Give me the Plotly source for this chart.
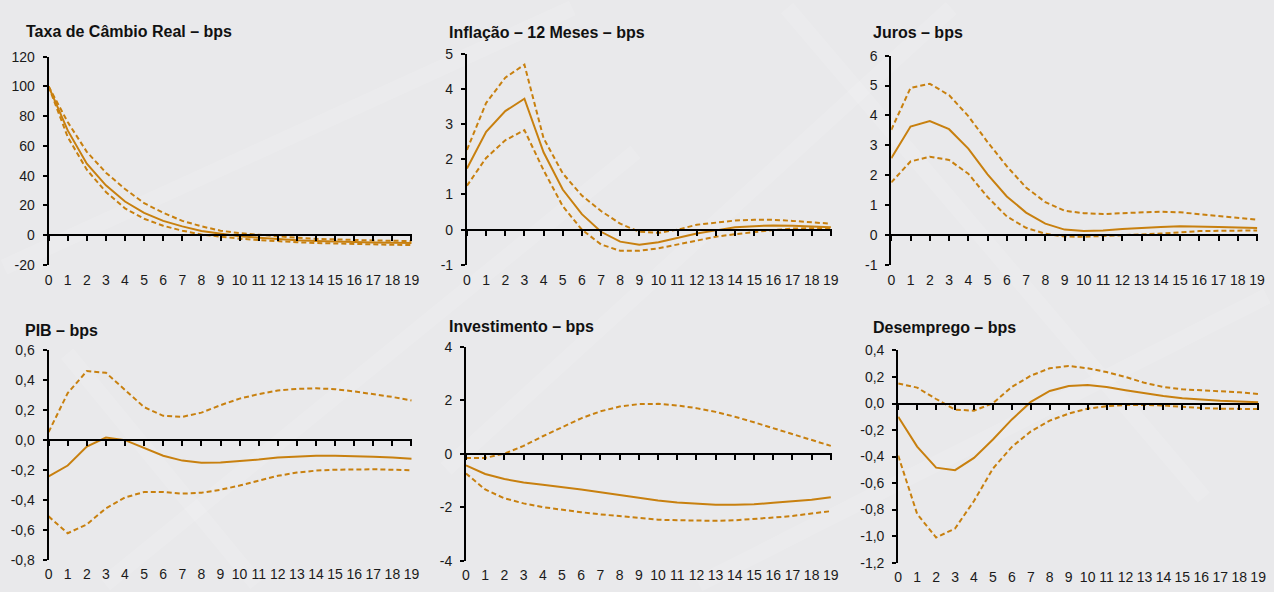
import plotly.graph_objects as go

# horizons (quarters after the shock)
horizons = list(range(20))

# Taxa de Câmbio Real
cambio_mid = [100, 70.4, 48, 33.5, 22.6, 15, 9.6, 5.9, 2.8, 0.9, -0.7, -1.7, -2.8, -3.5, -4, -4.5, -4.8, -5, -5.2, -5.3]
cambio_up = [100, 76, 56, 42, 31, 21.5, 15, 9.6, 5.9, 3, 1.3, 0.2, -0.9, -1.8, -2.5, -3, -3.3, -3.6, -3.8, -4]
cambio_lo = [100, 66, 44, 29, 18, 11, 6.3, 3, 0.4, -1.1, -2.4, -3.3, -4.2, -4.8, -5.3, -5.7, -6, -6.3, -6.5, -6.7]

# Inflação – 12 meses
infl_mid = [1.74, 2.78, 3.37, 3.72, 2.2, 1.14, 0.44, -0.06, -0.34, -0.43, -0.36, -0.23, -0.11, -0.02, 0.07, 0.1, 0.12, 0.11, 0.09, 0.07]
infl_up = [2.27, 3.6, 4.32, 4.69, 2.6, 1.6, 0.97, 0.53, 0.17, -0.06, -0.09, 0.0, 0.14, 0.21, 0.26, 0.28, 0.28, 0.25, 0.21, 0.17]
infl_lo = [1.25, 2.04, 2.54, 2.83, 1.69, 0.67, 0.0, -0.42, -0.6, -0.6, -0.53, -0.42, -0.3, -0.2, -0.13, -0.06, -0.01, 0.03, 0.05, 0.05]

# Juros
juros_mid = [2.57, 3.63, 3.81, 3.54, 2.89, 2.03, 1.29, 0.75, 0.38, 0.18, 0.13, 0.15, 0.2, 0.24, 0.27, 0.29, 0.29, 0.27, 0.25, 0.23]
juros_up = [3.52, 4.92, 5.06, 4.68, 3.98, 3.11, 2.3, 1.59, 1.1, 0.81, 0.73, 0.7, 0.73, 0.76, 0.78, 0.76, 0.7, 0.65, 0.58, 0.51]
juros_lo = [1.76, 2.46, 2.62, 2.51, 2.05, 1.27, 0.62, 0.24, 0.04, -0.05, -0.06, -0.04, -0.01, 0.02, 0.05, 0.1, 0.13, 0.14, 0.15, 0.15]

# PIB
pib_mid = [-0.243, -0.17, -0.043, 0.017, 0.0, -0.054, -0.104, -0.137, -0.152, -0.15, -0.141, -0.13, -0.117, -0.109, -0.104, -0.104, -0.106, -0.111, -0.117, -0.124]
pib_up = [0.054, 0.315, 0.462, 0.451, 0.336, 0.221, 0.163, 0.156, 0.184, 0.234, 0.278, 0.308, 0.332, 0.343, 0.347, 0.341, 0.326, 0.308, 0.289, 0.265]
pib_lo = [-0.51, -0.623, -0.564, -0.456, -0.384, -0.347, -0.347, -0.358, -0.352, -0.332, -0.304, -0.271, -0.239, -0.217, -0.204, -0.198, -0.195, -0.195, -0.198, -0.202]

# Investimento
inv_mid = [-0.44, -0.76, -0.95, -1.08, -1.16, -1.24, -1.34, -1.44, -1.55, -1.66, -1.75, -1.83, -1.87, -1.91, -1.91, -1.89, -1.84, -1.78, -1.72, -1.63]
inv_up = [-0.16, -0.16, 0.0, 0.29, 0.65, 0.99, 1.32, 1.58, 1.76, 1.85, 1.86, 1.8, 1.7, 1.56, 1.38, 1.17, 0.95, 0.75, 0.53, 0.29]
inv_lo = [-0.74, -1.34, -1.67, -1.86, -2.0, -2.1, -2.19, -2.27, -2.34, -2.4, -2.47, -2.49, -2.51, -2.51, -2.49, -2.45, -2.39, -2.33, -2.25, -2.15]

# Desemprego
des_mid = [-0.1, -0.325, -0.484, -0.503, -0.41, -0.271, -0.12, 0.012, 0.095, 0.132, 0.139, 0.125, 0.1, 0.076, 0.056, 0.039, 0.027, 0.02, 0.015, 0.01]
des_up = [0.151, 0.12, 0.034, -0.046, -0.054, 0.002, 0.125, 0.21, 0.266, 0.283, 0.266, 0.237, 0.2, 0.156, 0.125, 0.107, 0.1, 0.093, 0.085, 0.071]
des_lo = [-0.393, -0.833, -1.011, -0.943, -0.735, -0.491, -0.327, -0.21, -0.129, -0.076, -0.039, -0.02, -0.012, -0.01, -0.015, -0.027, -0.034, -0.039, -0.042, -0.042]

titles = ["Taxa de Câmbio Real – bps", "Inflação – 12 Meses – bps", "Juros – bps",
          "PIB – bps", "Investimento – bps", "Desemprego – bps"]

# y tick values per panel
yticks_cambio = [-20, 0, 20, 40, 60, 80, 100, 120]
yticks_infl = [-1, 0, 1, 2, 3, 4, 5]
yticks_juros = [-1, 0, 1, 2, 3, 4, 5, 6]
yticks_pib = [-0.8, -0.6, -0.4, -0.2, 0.0, 0.2, 0.4, 0.6]
yticks_inv = [-4, -2, 0, 2, 4]
yticks_des = [-1.2, -1.0, -0.8, -0.6, -0.4, -0.2, 0.0, 0.2, 0.4]

W, H = 1274, 592
ORANGE = "#c8800f"
FONT = "Liberation Sans, Arial, sans-serif"

# series, ticks, decimals, plot area x px, plot area y px, title left/center px
panels = [
    (cambio_mid, cambio_up, cambio_lo, yticks_cambio, 0, (45, 412), (50, 264), (22, 24)),
    (infl_mid, infl_up, infl_lo, yticks_infl, 0, (467, 835), (47, 264), (449, 25)),
    (juros_mid, juros_up, juros_lo, yticks_juros, 0, (895, 1265), (49, 264), (877, 25)),
    (pib_mid, pib_up, pib_lo, yticks_pib, 1, (45, 412), (352, 567), (21, 331)),
    (inv_mid, inv_up, inv_lo, yticks_inv, 0, (466, 835), (348, 568), (449, 327)),
    (des_mid, des_up, des_lo, yticks_des, 1, (902, 1266), (352, 570), (877, 328)),
]


def fmt(v, dec):
    return f"{v:.{dec}f}".replace(".", ",")


fig = go.Figure()
layout = {}
annotations = []

for i, (mid, up, lo, yt, dec, (px0, px1), (py0, py1), (tx, ty)) in enumerate(panels):
    n = i + 1
    xa = "x" if n == 1 else f"x{n}"
    ya = "y" if n == 1 else f"y{n}"
    xdom = [px0 / W, px1 / W]
    ydom = [1 - py1 / H, 1 - py0 / H]

    for series, dash in [(up, "5px,3px"), (lo, "5px,3px"), (mid, "solid")]:
        fig.add_trace(go.Scatter(
            x=horizons, y=series, mode="lines", xaxis=xa, yaxis=ya,
            line=dict(color=ORANGE, width=2, dash=dash),
            showlegend=False, hoverinfo="skip",
        ))

    ymin, ymax = yt[0], yt[-1]
    # bottom axis: labels only
    layout[f"xaxis{'' if n == 1 else n}"] = dict(
        domain=xdom, anchor=ya, range=[0, 19.05],
        tickvals=horizons, ticktext=[str(h) for h in horizons],
        showline=False, showgrid=False, zeroline=False,
        ticks="outside", ticklen=2, tickcolor="rgba(0,0,0,0)",
        tickfont=dict(family=FONT, size=14, color="#1a1a1a"),
    )
    layout[f"yaxis{'' if n == 1 else n}"] = dict(
        domain=ydom, anchor=xa, range=[ymin, ymax],
        tickvals=yt, ticktext=[fmt(v, dec) for v in yt],
        showline=True, linecolor="black", linewidth=2,
        ticks="outside", ticklen=4, tickwidth=2, tickcolor="black",
        ticklabelstandoff=5,
        showgrid=False, zeroline=False,
        tickfont=dict(family=FONT, size=14, color="#1a1a1a"),
    )
    # axis line crossing at zero, ticks pointing down
    zero_pos = ydom[0] + (0 - ymin) / (ymax - ymin) * (ydom[1] - ydom[0])
    k = n + 6
    layout[f"xaxis{k}"] = dict(
        domain=xdom, overlaying=xa, anchor="free", position=zero_pos,
        range=[0, 19.05], tickvals=horizons, showticklabels=False,
        showline=True, linecolor="black", linewidth=2,
        ticks="outside", ticklen=5, tickwidth=2, tickcolor="black",
        showgrid=False, zeroline=False,
    )
    # empty trace so the zero axis gets drawn
    fig.add_trace(go.Scatter(x=[], y=[], xaxis=f"x{k}", yaxis=ya,
                             showlegend=False, hoverinfo="skip"))
    annotations.append(dict(
        text=f"<b>{titles[i]}</b>", xref="paper", yref="paper",
        x=(tx - 2) / W, y=1 - ty / H, xanchor="left", yanchor="middle",
        showarrow=False, font=dict(family=FONT, size=16, color="#111111"),
    ))

# faint diagonal texture in the background
shapes = []
for (x0, y0, x1, y1) in [(0, 0.55, 0.45, 1.0), (0.08, 0.0, 0.5, 0.75), (0.35, 0.2, 0.75, 1.0),
                         (0.55, 0.0, 1.0, 0.5), (0.62, 1.0, 0.95, 0.15), (0.2, 0.0, 0.05, 0.4)]:
    shapes.append(dict(type="line", xref="paper", yref="paper", x0=x0, y0=y0, x1=x1, y1=y1,
                       line=dict(color="rgba(255,255,255,0.12)", width=16), layer="below"))

fig.update_layout(
    width=W, height=H,
    margin=dict(l=0, r=0, t=0, b=0),
    paper_bgcolor="#e9e9eb", plot_bgcolor="rgba(0,0,0,0)",
    annotations=annotations, shapes=shapes,
    **layout,
)

fig.write_html("out.html", config={"displayModeBar": False},
               post_script="document.body.style.margin='0';")
